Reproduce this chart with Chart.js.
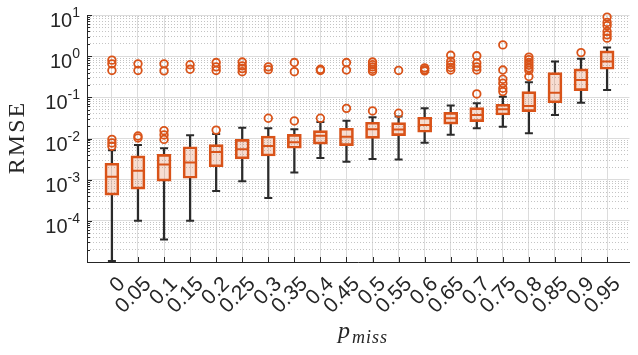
<!DOCTYPE html>
<html>
<head>
<meta charset="utf-8">
<script src="https://cdn.jsdelivr.net/npm/chart.js@4/dist/chart.umd.min.js"></script>
<style>
  html, body { margin: 0; padding: 0; background: #fff; }
  #wrap { width: 638px; height: 355px; }
</style>
</head>
<body>
<div id="wrap"><canvas id="rmseChart" width="638" height="355"></canvas></div>
<script>
// missing-data fraction (x categories)
const pMiss = [0, 0.05, 0.1, 0.15, 0.2, 0.25, 0.3, 0.35, 0.4, 0.45, 0.5, 0.55, 0.6, 0.65, 0.7, 0.75, 0.8, 0.85, 0.9, 0.95];
const tickLabels = ['0', '0.05', '0.1', '0.15', '0.2', '0.25', '0.3', '0.35', '0.4', '0.45', '0.5', '0.55', '0.6', '0.65', '0.7', '0.75', '0.8', '0.85', '0.9', '0.95'];

// box plot statistics
const whiskerLow = [1.06e-5, 1.0e-4, 3.5e-5, 1.0e-4, 5.3e-4, 9.1e-4, 3.6e-4, 1.5e-3, 3.36e-3, 2.73e-3, 3.17e-3, 3.1e-3, 7.9e-3, 1.24e-2, 1.77e-2, 1.94e-2, 1.34e-2, 3.73e-2, 7.4e-2, 0.151];
const q1 = [4.2e-4, 5.9e-4, 9.2e-4, 1.08e-3, 2.06e-3, 3.2e-3, 3.75e-3, 5.8e-3, 7.3e-3, 6.7e-3, 1.01e-2, 1.17e-2, 1.42e-2, 2.23e-2, 2.57e-2, 3.73e-2, 4.5e-2, 7.4e-2, 0.146, 0.48];
const median = [1.17e-3, 1.65e-3, 2.35e-3, 2.6e-3, 4.7e-3, 5.5e-3, 6.6e-3, 8.1e-3, 1.17e-2, 1.1e-2, 1.67e-2, 1.66e-2, 2.13e-2, 3.1e-2, 3.73e-2, 5.1e-2, 6.2e-2, 0.13, 0.265, 0.74];
const q3 = [2.5e-3, 3.8e-3, 4.1e-3, 6.3e-3, 7.1e-3, 9.5e-3, 1.15e-2, 1.26e-2, 1.55e-2, 1.77e-2, 2.48e-2, 2.42e-2, 3.28e-2, 4.3e-2, 5.6e-2, 6.8e-2, 0.138, 0.40, 0.49, 1.35];
const whiskerHigh = [5.2e-3, 6.95e-3, 5.8e-3, 1.2e-2, 1.29e-2, 1.83e-2, 1.77e-2, 1.67e-2, 2.5e-2, 2.7e-2, 3.28e-2, 3.4e-2, 5.4e-2, 6.35e-2, 7.2e-2, 0.104, 0.233, 0.74, 0.86, 1.62];
const outliers = [
  [0.0095, 0.0078, 0.0065, 0.8, 0.65, 0.45],
  [0.0115, 0.0103, 0.65, 0.45],
  [0.0155, 0.0122, 0.0095, 0.65, 0.44],
  [0.62, 0.48],
  [0.016, 0.7, 0.55, 0.45],
  [0.72, 0.58, 0.5, 0.42],
  [0.031, 0.55, 0.47],
  [0.0267, 0.7, 0.42],
  [0.031, 0.48, 0.45],
  [0.054, 0.7, 0.46],
  [0.0467, 0.72, 0.62, 0.55, 0.48, 0.43],
  [0.041, 0.45],
  [0.52, 0.47, 0.44],
  [1.05, 0.75, 0.62, 0.53, 0.46],
  [0.121, 1.02, 0.68, 0.55, 0.46],
  [1.88, 0.46, 0.275, 0.22, 0.166, 0.138],
  [0.95, 0.82, 0.7, 0.6, 0.52, 0.45, 0.32],
  [],
  [1.22],
  [8.9, 6.6, 5.5, 3.97, 3.3, 2.74]
];

// y tick labels (10^exp)
const yLabelValues = [1e1, 1e0, 1e-1, 1e-2, 1e-3, 1e-4];
const yLabelExps = ['1', '0', '-1', '-2', '-3', '-4'];
const decades = [1e-5, 1e-4, 1e-3, 1e-2, 1e-1, 1e0, 1e1];

const ORANGE = '#D95319';
const DARK = '#262626';
const WHISK = '#2b2b2b';

const minorTicks = [];
decades.slice(0, -1).forEach(d => {
  for (let k = 2; k <= 9; k++) minorTicks.push({ value: +(d * k).toPrecision(3) });
});

const boxPts = pMiss.map((p, i) => ({ x: p, y: [q1[i], q3[i]] }));
const lowPts = pMiss.map((p, i) => ({ x: p, y: [whiskerLow[i], q1[i]] }));
const highPts = pMiss.map((p, i) => ({ x: p, y: [q3[i], whiskerHigh[i]] }));
const capPts = pMiss.flatMap((p, i) => [{ x: p, y: whiskerLow[i] }, { x: p, y: whiskerHigh[i] }]);
const medianPts = pMiss.map((p, i) => ({ x: p, y: median[i] }));
const outlierPts = pMiss.flatMap((p, i) => outliers[i].map(v => ({ x: p, y: v })));

// inward ticks, y tick labels and axis titles
const annotate = {
  id: 'annotate',
  afterDraw(chart) {
    const { ctx, chartArea, scales } = chart;
    const x = scales.x, y = scales.y;
    ctx.save();
    ctx.strokeStyle = DARK;
    ctx.lineWidth = 1;
    ctx.beginPath();
    pMiss.forEach(p => {
      const px = Math.round(x.getPixelForValue(p)) + 0.5;
      ctx.moveTo(px, chartArea.bottom);
      ctx.lineTo(px, chartArea.bottom - 5);
    });
    const lx = chartArea.left;
    decades.forEach(d => {
      const py = Math.round(y.getPixelForValue(d)) + 0.5;
      ctx.moveTo(lx, py);
      ctx.lineTo(lx + 5, py);
    });
    minorTicks.forEach(t => {
      const py = Math.round(y.getPixelForValue(t.value)) + 0.5;
      ctx.moveTo(lx, py);
      ctx.lineTo(lx + 3, py);
    });
    ctx.stroke();

    ctx.fillStyle = DARK;
    ctx.textBaseline = 'alphabetic';
    ctx.textAlign = 'left';
    yLabelValues.forEach((v, i) => {
      const py = y.getPixelForValue(v);
      ctx.font = '20px "Liberation Sans", Arial, sans-serif';
      const w10 = ctx.measureText('10').width;
      ctx.font = '14px "Liberation Sans", Arial, sans-serif';
      const we = ctx.measureText(yLabelExps[i]).width;
      const x0 = 80 - w10 - we;
      ctx.font = '20px "Liberation Sans", Arial, sans-serif';
      ctx.fillText('10', x0, py + 12);
      ctx.font = '14px "Liberation Sans", Arial, sans-serif';
      ctx.fillText(yLabelExps[i], x0 + w10, py + 2);
    });

    // y title
    ctx.save();
    ctx.translate(23.5, 137.5);
    ctx.rotate(-Math.PI / 2);
    ctx.textAlign = 'center';
    ctx.font = '24px "Liberation Serif", "Times New Roman", serif';
    ctx.letterSpacing = '2px';
    ctx.fillText('RMSE', 0, 0);
    ctx.restore();

    // x title: p_miss
    ctx.textAlign = 'left';
    ctx.font = 'italic 24px "Liberation Serif", "Times New Roman", serif';
    ctx.fillText('p', 338, 338);
    ctx.font = 'italic 18px "Liberation Serif", "Times New Roman", serif';
    ctx.letterSpacing = '1px';
    ctx.fillText('miss', 352, 343);
    ctx.restore();
  }
};

const config = {
  type: 'bar',
  data: {
    datasets: [
      {
        type: 'scatter',
        label: 'outliers',
        data: outlierPts,
        pointStyle: 'circle',
        pointRadius: 3.8,
        pointBorderWidth: 1.8,
        pointBackgroundColor: 'rgba(0,0,0,0)',
        pointBorderColor: ORANGE,
        clip: false,
        order: 0
      },
      {
        type: 'scatter',
        label: 'median',
        data: medianPts,
        pointStyle: 'line',
        pointRadius: 6.5,
        pointBorderWidth: 2,
        pointBorderColor: ORANGE,
        order: 1
      },
      {
        label: 'box',
        data: boxPts,
        barThickness: 14,
        grouped: false,
        backgroundColor: 'rgba(217, 83, 25, 0.2)',
        borderColor: ORANGE,
        borderWidth: 2,
        borderSkipped: false,
        order: 2
      },
      {
        type: 'scatter',
        label: 'caps',
        data: capPts,
        pointStyle: 'line',
        pointRadius: 4,
        pointBorderWidth: 2,
        pointBorderColor: WHISK,
        order: 3
      },
      {
        label: 'lower whisker',
        data: lowPts,
        barThickness: 1.6,
        grouped: false,
        backgroundColor: WHISK,
        borderWidth: 0,
        order: 4
      },
      {
        label: 'upper whisker',
        data: highPts,
        barThickness: 1.6,
        grouped: false,
        backgroundColor: WHISK,
        borderWidth: 0,
        order: 4
      }
    ]
  },
  options: {
    responsive: false,
    animation: false,
    layout: { padding: { top: 15, right: 0, bottom: 0, left: 0 } },
    plugins: {
      legend: { display: false },
      tooltip: { enabled: false }
    },
    scales: {
      x: {
        type: 'linear',
        min: -0.0478,
        max: 0.993,
        offset: false,
        afterBuildTicks: s => { s.ticks = pMiss.map(v => ({ value: v })); },
        afterFit: s => { s.height = 93; },
        ticks: {
          autoSkip: false,
          minRotation: 45,
          maxRotation: 45,
          padding: 10,
          labelOffset: 10,
          color: DARK,
          font: { family: '"Liberation Sans", Arial, sans-serif', size: 21 },
          callback: (v, i) => tickLabels[i]
        },
        grid: { color: '#dcdcdc', lineWidth: 1, drawTicks: false, offset: false },
        border: { color: DARK, width: 1 }
      },
      y: {
        type: 'logarithmic',
        position: 'left',
        min: 1e-5,
        max: 10,
        afterBuildTicks: s => { s.ticks = decades.map(v => ({ value: v, major: true })); },
        afterFit: s => { s.width = 87; },
        ticks: { display: false },
        grid: { color: '#dcdcdc', lineWidth: 1, drawTicks: false },
        border: { color: DARK, width: 1 }
      },
      yMinor: {
        type: 'logarithmic',
        position: 'left',
        min: 1e-5,
        max: 10,
        afterBuildTicks: s => { s.ticks = minorTicks.map(t => ({ value: t.value })); },
        afterFit: s => { s.width = 0; },
        ticks: { display: false },
        grid: { color: '#c4c4c4', lineWidth: 1, drawTicks: false },
        border: { display: false, dash: [1, 2] }
      }
    }
  },
  plugins: [annotate]
};

const rmseChart = new Chart(document.getElementById('rmseChart'), config);
</script>
</body>
</html>
